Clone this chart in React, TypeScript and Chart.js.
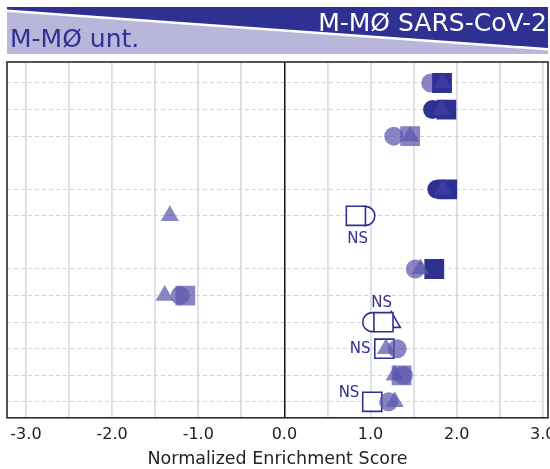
import React, { useEffect, useRef } from 'react';
import { Chart, registerables } from 'chart.js';

Chart.register(...registerables);

// Row positions (category slots, top to bottom; slots 3 and 6 are empty)
const rows = [0, 1, 2, 4, 5, 7, 8, 9, 10, 11, 12];

// Normalized enrichment scores per marker shape, per row
const circleX = [1.70, 1.72, 1.27, 1.77, 0.94, 1.52, -1.21, 1.02, 1.31, 1.38, 1.21];
const circleSig = ['L', 'D', 'L', 'D', 'N', 'L', 'L', 'N', 'L', 'L', 'L'];
const squareX = [1.83, 1.88, 1.46, 1.89, 0.83, 1.74, -1.15, 1.15, 1.16, 1.36, 1.02];
const squareSig = ['D', 'D', 'L', 'D', 'N', 'D', 'L', 'N', 'N', 'L', 'N'];
const triangleX = [1.83, 1.82, 1.46, 1.84, -1.33, 1.58, -1.39, 1.24, 1.18, 1.28, 1.28];
const triangleSig = ['M', 'M', 'L', 'M', 'L', 'L', 'L', 'N', 'L', 'L', 'L'];

// "NS" annotations
const nsX = [0.85, 1.13, 0.88, 0.75];
const nsY = [5.86, 8.3, 10, 11.66];
const nsText = ['NS', 'NS', 'NS', 'NS'];

const xTickValues = [-3, -2.5, -2, -1.5, -1, -0.5, 0, 0.5, 1, 1.5, 2, 2.5, 3];
const xTitle = 'Normalized Enrichment Score';
const leftHeader = 'M-MØ unt.';
const rightHeader = 'M-MØ SARS-CoV-2';

const NAVY = '#2e3192';
const FILL: Record<string, string> = {
  D: '#2e3192',
  M: 'rgba(62,60,165,0.88)',
  L: 'rgba(92,86,172,0.72)',
  N: '#ffffff',
};
const FONT = "'DejaVu Sans', sans-serif";

function makeSet(label: string, xs: number[], sig: string[], hollow: boolean, style: string, radius: number, order: number) {
  const pts: { x: number; y: number }[] = [];
  const colors: string[] = [];
  xs.forEach((x, i) => {
    const isHollow = sig[i] === 'N';
    if (isHollow === hollow) {
      pts.push({ x, y: rows[i] });
      colors.push(FILL[sig[i]]);
    }
  });
  return {
    label,
    data: pts,
    pointStyle: style,
    pointRadius: radius,
    pointHoverRadius: radius,
    pointBackgroundColor: colors,
    pointBorderColor: hollow ? NAVY : 'rgba(0,0,0,0)',
    pointBorderWidth: hollow ? 1.6 : 0,
    showLine: false,
    order,
  };
}

const framePlugin = {
  id: 'frameAndNs',
  afterDatasetsDraw(chart: any) {
    const { ctx, scales } = chart;
    ctx.save();
    ctx.fillStyle = NAVY;
    ctx.font = `15px ${FONT}`;
    ctx.textAlign = 'center';
    ctx.textBaseline = 'middle';
    nsText.forEach((t, i) => {
      ctx.fillText(t, scales.x.getPixelForValue(nsX[i]), scales.y.getPixelForValue(nsY[i]));
    });
    ctx.restore();
  },
  afterDraw(chart: any) {
    const { ctx, chartArea } = chart;
    ctx.save();
    ctx.strokeStyle = '#2a2a2a';
    ctx.lineWidth = 1.6;
    ctx.strokeRect(chartArea.left, chartArea.top, chartArea.right - chartArea.left, chartArea.bottom - chartArea.top);
    ctx.restore();
  },
};

export default function App() {
  const ref = useRef<HTMLCanvasElement | null>(null);

  useEffect(() => {
    document.body.style.margin = '0';
    if (!ref.current) return;
    const chart = new Chart(ref.current, {
      type: 'scatter',
      data: {
        datasets: [
          makeSet('circle-ns', circleX, circleSig, true, 'circle', 9.5, 6),
          makeSet('triangle-ns', triangleX, triangleSig, true, 'triangle', 10.5, 5),
          makeSet('square-ns', squareX, squareSig, true, 'rect', 13.5, 4),
          makeSet('circle', circleX, circleSig, false, 'circle', 9.5, 3),
          makeSet('square', squareX, squareSig, false, 'rect', 14, 2),
          makeSet('triangle', triangleX, triangleSig, false, 'triangle', 10.5, 1),
        ] as any,
      },
      options: {
        animation: false,
        responsive: false,
        layout: { autoPadding: false, padding: { top: 62, left: 7, right: 2, bottom: -1 } } as any,
        plugins: { legend: { display: false }, tooltip: { enabled: false } },
        scales: {
          x: {
            type: 'linear',
            min: -3.22,
            max: 3.06,
            afterBuildTicks: (scale: any) => {
              scale.ticks = xTickValues.map((v) => ({ value: v }));
            },
            afterFit: (scale: any) => {
              scale.paddingLeft = 0;
              scale.paddingRight = 0;
            },
            grid: {
              drawTicks: false,
              color: (c: any) => (c.tick && c.tick.value === 0 ? '#111111' : '#dddce8'),
              lineWidth: (c: any) => (c.tick && c.tick.value === 0 ? 1.5 : 1.8),
            },
            border: { display: false },
            ticks: {
              autoSkip: false,
              maxRotation: 0,
              padding: 7,
              color: '#222222',
              font: { family: FONT, size: 16 },
              callback: (v: any) => (Number.isInteger(Number(v)) ? Number(v).toFixed(1) : ''),
            },
            title: {
              display: true,
              text: xTitle,
              color: '#222222',
              font: { family: FONT, size: 17.5 },
              padding: { top: -2, bottom: 0 },
            },
          },
          y: {
            type: 'linear',
            reverse: true,
            min: -0.79,
            max: 12.6,
            afterBuildTicks: (scale: any) => {
              scale.ticks = rows.map((v) => ({ value: v }));
            },
            afterFit: (scale: any) => {
              scale.paddingTop = 0;
              scale.paddingBottom = 0;
            },
            grid: { drawTicks: false, color: '#d2d2d2', lineWidth: 1 },
            border: { display: false, dash: [4, 3] },
            ticks: { display: false },
          },
        },
      },
      plugins: [framePlugin],
    });
    return () => chart.destroy();
  }, []);

  return (
    <div style={{ position: 'relative', width: 550, height: 469, background: '#fff', overflow: 'hidden' }}>
      <canvas ref={ref} width={550} height={469} style={{ position: 'absolute', left: 0, top: 0 }} />
      <div
        style={{
          position: 'absolute', left: 7, top: 7, width: 541, height: 47,
          background: '#b9b6dc',
          clipPath: 'polygon(0px 5px, 541px 43.5px, 541px 47px, 0px 47px)',
        }}
      />
      <div
        style={{
          position: 'absolute', left: 7, top: 7, width: 541, height: 47,
          background: NAVY,
          clipPath: 'polygon(0px 0px, 541px 0px, 541px 41px, 0px 2.5px)',
        }}
      />
      <div
        style={{
          position: 'absolute', right: 3, top: 8, color: '#ffffff',
          fontFamily: FONT, fontSize: 25, lineHeight: '30px', whiteSpace: 'nowrap',
        }}
      >
        {rightHeader}
      </div>
      <div
        style={{
          position: 'absolute', left: 10, top: 24, color: NAVY,
          fontFamily: FONT, fontSize: 25, lineHeight: '30px', whiteSpace: 'nowrap',
        }}
      >
        {leftHeader}
      </div>
    </div>
  );
}
